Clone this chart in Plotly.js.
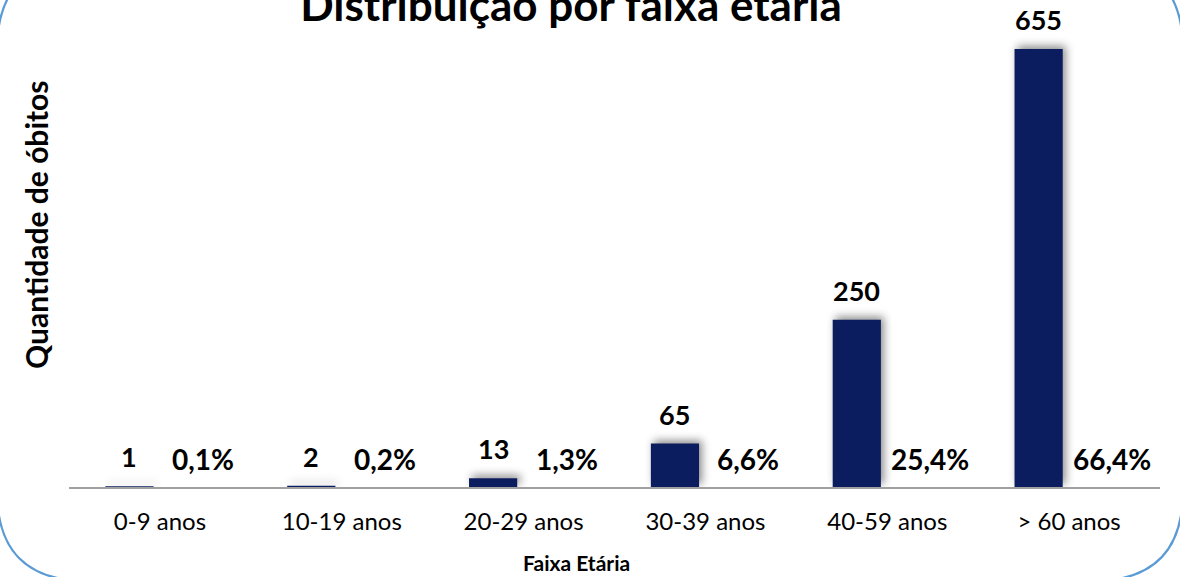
<!DOCTYPE html>
<html>
<head>
<meta charset="utf-8">
<script src="https://cdn.plot.ly/plotly-3.0.1.min.js"></script>
<style>
  html, body { margin: 0; padding: 0; background: #ffffff; }
  #chart { width: 1180px; height: 577px; }
  #chart .barlayer .point path { filter: drop-shadow(3px -3px 4px rgba(0,0,0,0.45)); }
</style>
</head>
<body>
<div id="chart"></div>
<script>
// ---- data ----
const categories = ["0-9 anos", "10-19 anos", "20-29 anos", "30-39 anos", "40-59 anos", "> 60 anos"];
const deaths = [1, 2, 13, 65, 250, 655];
const percents = [0.1, 0.2, 1.3, 6.6, 25.4, 66.4];

const chartTitle = "Distribuição por faixa etária";
const xTitle = "Faixa Etária";
const yTitle = "Quantidade de óbitos";

// ---- style ----
const W = 1180, H = 577;
const margin = {l: 69, r: 20, t: 19, b: 90};
const barOffset = -0.30, barWidth = 0.265;
const plotW = W - margin.l - margin.r, plotH = H - margin.t - margin.b;
const catPx = plotW / categories.length;
const font = "Lato, 'Open Sans', sans-serif";
const navy = "#0B1C5F";

const fmtPct = v => v.toFixed(1).replace(".", ",") + "%";

const px2x = p => (p - margin.l) / plotW;
const px2y = p => (H - margin.b - p) / plotH;

const trace = {
  type: "bar",
  x: categories,
  y: deaths,
  offset: barOffset,
  width: barWidth,
  marker: {color: navy, line: {width: 0}},
  hoverinfo: "x+y"
};

const annotations = [];
categories.forEach((c, i) => {
  annotations.push({
    x: c, y: deaths[i], xref: "x", yref: "y",
    text: String(deaths[i]), showarrow: false,
    xanchor: "center", yanchor: "bottom",
    xshift: (barOffset + barWidth / 2) * catPx, yshift: 11,
    font: {family: font, size: 27, color: "#000", weight: "bold"}
  });
  annotations.push({
    x: c, y: 0, xref: "x", yref: "y",
    text: fmtPct(percents[i]), showarrow: false,
    xanchor: "center", yanchor: "middle",
    xshift: 43, yshift: 28,
    font: {family: font, size: 28, color: "#000", weight: "bold"}
  });
});
// axis titles
annotations.push({
  xref: "paper", yref: "paper", x: px2x(576), y: px2y(562),
  xanchor: "center", yanchor: "middle", showarrow: false,
  text: xTitle,
  font: {family: font, size: 21, color: "#000", weight: "bold"}
});
annotations.push({
  xref: "paper", yref: "paper", x: px2x(36), y: px2y(225),
  xanchor: "center", yanchor: "middle", showarrow: false,
  textangle: -90, text: yTitle,
  font: {family: font, size: 30, color: "#000", weight: "bold"}
});

// rounded border (pixel geometry converted to paper coords)
const bL = -3, bR = 1183, bT = -40, bB = 581, rad = 90;
function pt(x, y) { return px2x(x).toFixed(5) + "," + px2y(y).toFixed(5); }
const borderPath =
  "M" + pt(bL + rad, bT) + " L" + pt(bR - rad, bT) +
  " Q" + pt(bR, bT) + " " + pt(bR, bT + rad) +
  " L" + pt(bR, bB - rad) +
  " Q" + pt(bR, bB) + " " + pt(bR - rad, bB) +
  " L" + pt(bL + rad, bB) +
  " Q" + pt(bL, bB) + " " + pt(bL, bB - rad) +
  " L" + pt(bL, bT + rad) +
  " Q" + pt(bL, bT) + " " + pt(bL + rad, bT) + " Z";

const layout = {
  width: W, height: H,
  margin: margin,
  paper_bgcolor: "#ffffff",
  plot_bgcolor: "#ffffff",
  showlegend: false,
  title: {
    text: chartTitle,
    font: {family: font, size: 44, color: "#000", weight: "bold"},
    x: 571 / W, xref: "container", xanchor: "center",
    y: 0.990, yref: "container", yanchor: "middle"
  },
  xaxis: {
    type: "category",
    range: [-0.5, categories.length - 0.5],
    showline: true, linecolor: "#A0A0A0", linewidth: 1.5,
    showgrid: false, zeroline: false,
    ticks: "", ticklabelstandoff: 13,
    tickfont: {family: font, size: 24, color: "#000"},
    fixedrange: true
  },
  yaxis: {
    range: [0, 700],
    showline: false, showgrid: false, zeroline: false,
    showticklabels: false, ticks: "",
    fixedrange: true
  },
  annotations: annotations,
  shapes: [{
    type: "path", xref: "paper", yref: "paper",
    path: borderPath,
    line: {color: "#5B9BD5", width: 2.2},
    fillcolor: "rgba(0,0,0,0)",
    layer: "above"
  }]
};

Plotly.newPlot("chart", [trace], layout, {displayModeBar: false, staticPlot: true});
</script>
</body>
</html>
